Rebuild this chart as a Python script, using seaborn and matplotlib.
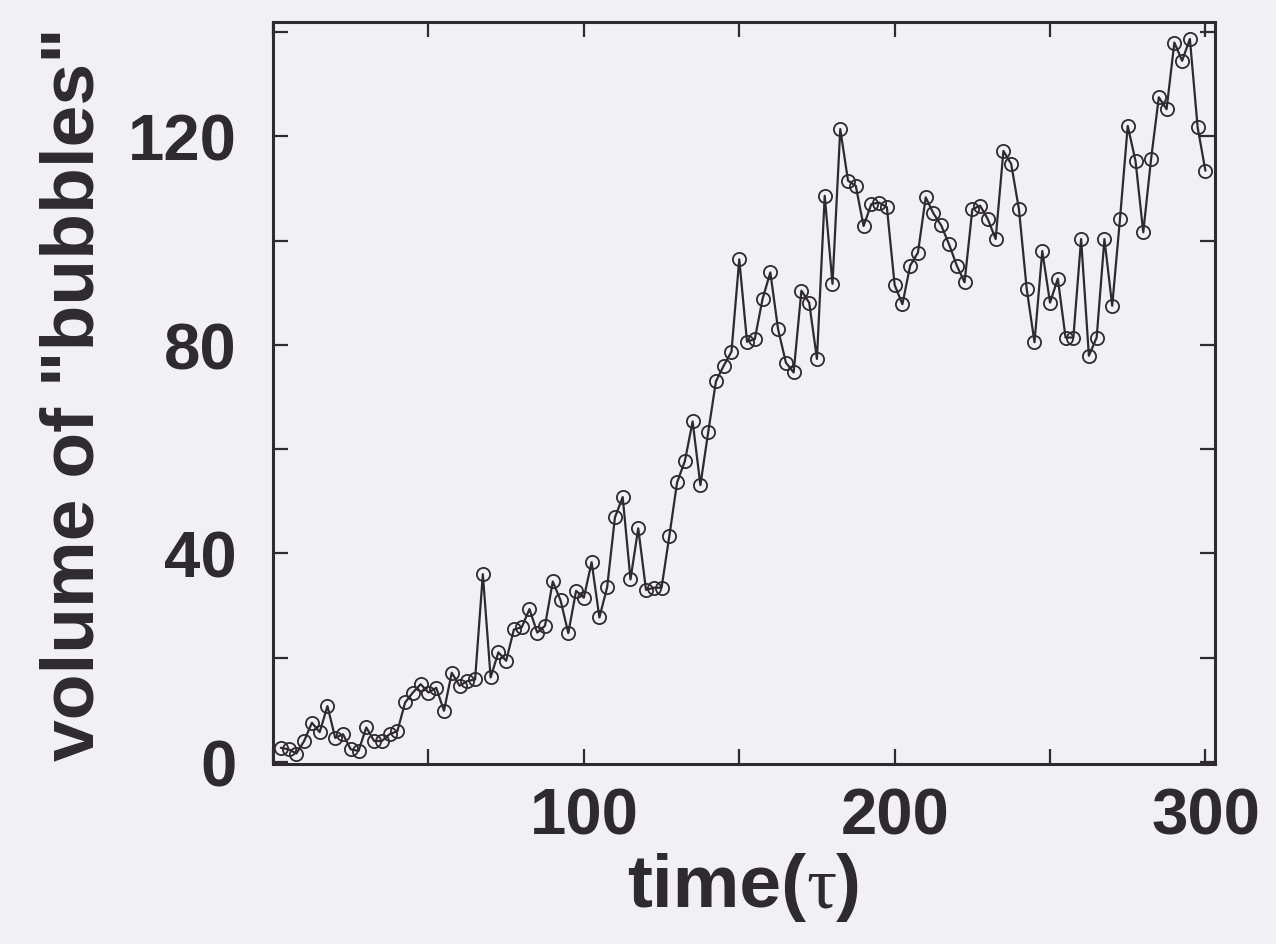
import numpy as np
import pandas as pd
import matplotlib
matplotlib.use("Agg")
import matplotlib.pyplot as plt
import seaborn as sns
from matplotlib.ticker import MultipleLocator, FuncFormatter
from matplotlib.offsetbox import TextArea, HPacker, AnnotationBbox

# ---------------- data ----------------
time_step = 2.5
volume = [
    2.7, 2.4, 1.6, 4.0, 7.5, 5.7, 10.7, 4.6, 5.3, 2.4,
    2.1, 6.6, 4.0, 4.0, 5.3, 5.9, 11.4, 13.3, 14.9, 13.3,
    14.2, 9.8, 17.1, 14.6, 15.5, 15.8, 36.0, 16.2, 21.0, 19.4,
    25.4, 25.8, 29.3, 24.8, 26.1, 34.6, 31.0, 24.7, 32.8, 31.5,
    38.3, 27.7, 33.5, 46.9, 50.8, 35.0, 44.8, 33.0, 33.4, 33.4,
    43.3, 53.6, 57.7, 65.3, 53.1, 63.2, 73.0, 76.0, 78.7, 96.4,
    80.6, 81.1, 88.8, 93.9, 83.0, 76.6, 74.7, 90.4, 88.1, 77.3,
    108.6, 91.7, 121.4, 111.5, 110.5, 102.8, 107.0, 107.3, 106.4, 91.5,
    87.8, 95.2, 97.7, 108.3, 105.2, 102.9, 99.3, 95.2, 92.0, 106.0,
    106.7, 104.1, 100.3, 117.2, 114.7, 106.0, 90.7, 80.5, 98.0, 88.1,
    92.7, 81.4, 81.4, 100.3, 77.9, 81.4, 100.3, 87.5, 104.1, 122.0,
    115.3, 101.6, 115.6, 127.5, 125.2, 138.0, 134.5, 138.7, 121.7, 113.4,
]
time = [time_step * (k + 1) for k in range(len(volume))]

x_labeled = [100, 200, 300]
y_labeled = [0, 40, 80, 120]

df = pd.DataFrame({"time": time, "volume": volume})

# ---------------- style ----------------
sns.set_theme(style="ticks")
plt.rcParams['font.family'] = ['Liberation Sans', 'DejaVu Sans']
plt.rcParams['font.weight'] = 'bold'

bg = '#f1f1f3'
ink = '#2e2a2e'

fig = plt.figure(figsize=(12.76, 9.45), dpi=100, facecolor=bg)
ax = fig.add_axes([0.214, 0.19, 0.738, 0.786])
ax.set_facecolor(bg)

sns.lineplot(data=df, x="time", y="volume", ax=ax, color=ink, linewidth=1.6,
             marker='o', markersize=9.5, markerfacecolor='none',
             markeredgecolor=ink, markeredgewidth=1.3)

ax.set_xlim(0, 303)
ax.set_ylim(-0.5, 142)

ax.xaxis.set_major_locator(MultipleLocator(50))
ax.yaxis.set_major_locator(MultipleLocator(20))
ax.xaxis.set_major_formatter(FuncFormatter(lambda v, p: f"{int(v)}" if int(round(v)) in x_labeled else ""))
ax.yaxis.set_major_formatter(FuncFormatter(lambda v, p: f"{int(v)}" if int(round(v)) in y_labeled else ""))

ax.tick_params(axis='both', which='major', direction='in', length=11, width=1.6,
               colors=ink, labelsize=47, top=True, right=True)
ax.tick_params(axis='x', pad=16)
ax.tick_params(axis='y', pad=26)
for lab in ax.get_xticklabels() + ax.get_yticklabels():
    lab.set_fontweight('bold')

for s in ax.spines.values():
    s.set_linewidth(2.2)
    s.set_color(ink)

# x label: bold sans "time(" + thin serif tau + ")"
sans = dict(fontsize=54, fontweight='bold', color=ink, family='Liberation Sans')
serif = dict(fontsize=54, fontweight='normal', color=ink, family='Liberation Serif')
pieces = [TextArea('time(', textprops=sans), TextArea('τ', textprops=serif),
          TextArea(')', textprops=sans)]
label_box = HPacker(children=pieces, sep=0, pad=0, align='baseline')
ab = AnnotationBbox(label_box, (0.5, -0.165), xycoords='axes fraction',
                    box_alignment=(0.5, 0.5), frameon=False, pad=0)
ax.add_artist(ab)

ax.set_xlabel('')
ax.set_ylabel('volume of "bubbles"', fontsize=54, fontweight='bold', color=ink)
ax.yaxis.set_label_coords(-0.175, 0.5)

fig.savefig('out.png', dpi=100, facecolor=bg)
